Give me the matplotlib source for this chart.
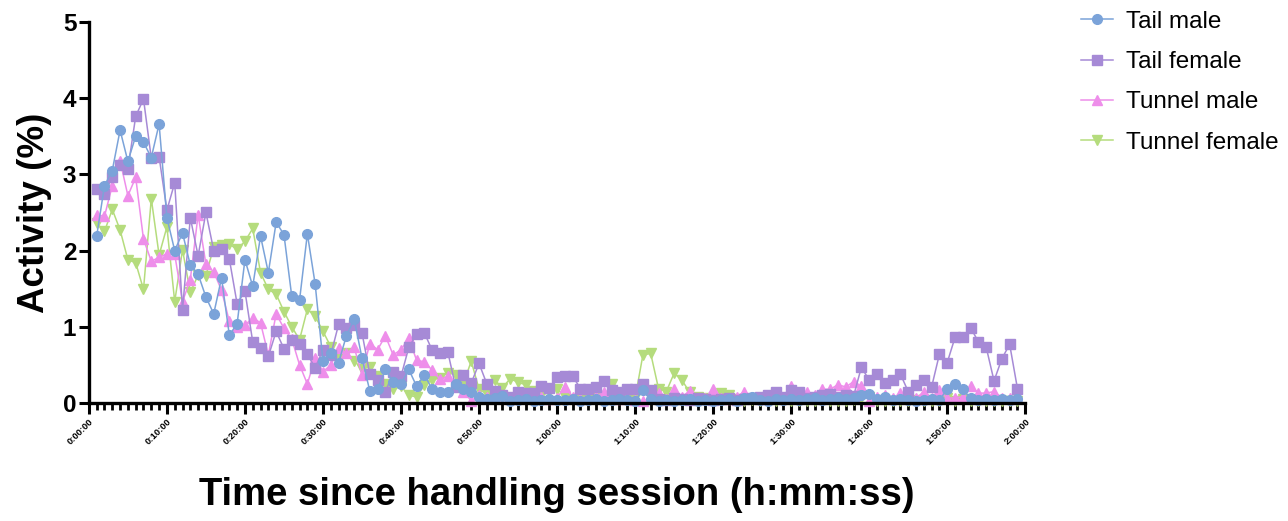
import numpy as np
import matplotlib
matplotlib.use("Agg")
import matplotlib.pyplot as plt
from matplotlib.ticker import MultipleLocator, FuncFormatter

plt.rcParams["font.family"] = ["Liberation Sans", "DejaVu Sans"]
plt.rcParams["font.weight"] = "bold"

minutes = np.arange(1, 120)

tail_male = [
    2.19, 2.85, 3.05, 3.58, 3.17, 3.50, 3.42, 3.22, 3.66, 2.43,
    2.00, 2.23, 1.81, 1.69, 1.39, 1.17, 1.64, 0.89, 1.04, 1.88,
    1.53, 2.19, 1.71, 2.37, 2.21, 1.40, 1.35, 2.22, 1.56, 0.55,
    0.65, 0.53, 0.88, 1.10, 0.59, 0.16, 0.18, 0.44, 0.27, 0.25,
    0.44, 0.22, 0.37, 0.18, 0.14, 0.15, 0.25, 0.18, 0.15, 0.08,
    0.05, 0.06, 0.09, 0.03, 0.04, 0.05, 0.03, 0.04, 0.05, 0.04,
    0.04, 0.05, 0.03, 0.04, 0.05, 0.03, 0.04, 0.05, 0.04, 0.03,
    0.17, 0.05, 0.03, 0.04, 0.03, 0.04, 0.05, 0.03, 0.04, 0.03,
    0.04, 0.05, 0.03, 0.06, 0.08, 0.04, 0.03, 0.05, 0.04, 0.05,
    0.04, 0.05, 0.06, 0.04, 0.05, 0.06, 0.05, 0.07, 0.10, 0.12,
    0.05, 0.08, 0.04, 0.05, 0.04, 0.03, 0.04, 0.05, 0.04, 0.18,
    0.25, 0.18, 0.06, 0.04, 0.05, 0.04, 0.05, 0.04, 0.05,
]
tail_female = [
    2.81, 2.74, 2.97, 3.12, 3.07, 3.76, 3.99, 3.21, 3.23, 2.53,
    2.89, 1.22, 2.43, 1.93, 2.50, 2.00, 2.02, 1.89, 1.30, 1.47,
    0.80, 0.72, 0.61, 0.94, 0.71, 0.82, 0.77, 0.64, 0.46, 0.70,
    0.63, 1.03, 0.99, 1.02, 0.92, 0.38, 0.30, 0.14, 0.41, 0.35,
    0.73, 0.90, 0.92, 0.69, 0.65, 0.67, 0.21, 0.37, 0.26, 0.52,
    0.25, 0.16, 0.11, 0.08, 0.14, 0.13, 0.13, 0.22, 0.20, 0.34,
    0.35, 0.35, 0.19, 0.19, 0.21, 0.29, 0.17, 0.15, 0.18, 0.19,
    0.25, 0.17, 0.05, 0.04, 0.06, 0.05, 0.04, 0.06, 0.05, 0.04,
    0.05, 0.06, 0.04, 0.05, 0.06, 0.08, 0.10, 0.15, 0.08, 0.17,
    0.14, 0.07, 0.08, 0.10, 0.12, 0.08, 0.10, 0.09, 0.47, 0.30,
    0.38, 0.26, 0.30, 0.38, 0.15, 0.24, 0.30, 0.21, 0.64, 0.53,
    0.86, 0.86, 0.99, 0.80, 0.73, 0.29, 0.58, 0.77, 0.19,
]
tunnel_male = [
    2.47, 2.45, 2.85, 3.18, 2.72, 2.96, 2.15, 1.86, 1.91, 1.96,
    1.95, 1.33, 1.62, 2.47, 1.82, 1.72, 1.48, 1.07, 1.00, 1.02,
    1.12, 1.05, 0.63, 1.17, 0.98, 0.84, 0.50, 0.25, 0.59, 0.41,
    0.50, 0.72, 0.65, 0.73, 0.37, 0.78, 0.70, 0.88, 0.63, 0.70,
    0.85, 0.56, 0.54, 0.43, 0.31, 0.35, 0.25, 0.15, 0.03, 0.10,
    0.08, 0.06, 0.10, 0.05, 0.07, 0.12, 0.06, 0.08, 0.05, 0.07,
    0.21, 0.08, 0.05, 0.06, 0.09, 0.14, 0.06, 0.05, 0.07, 0.04,
    0.02, 0.06, 0.13, 0.05, 0.19, 0.08, 0.16, 0.05, 0.06, 0.19,
    0.07, 0.05, 0.08, 0.15, 0.06, 0.05, 0.07, 0.06, 0.08, 0.22,
    0.08, 0.15, 0.10, 0.18, 0.18, 0.24, 0.21, 0.28, 0.22, 0.02,
    0.08, 0.10, 0.06, 0.13, 0.08, 0.06, 0.15, 0.07, 0.17, 0.06,
    0.07, 0.08, 0.22, 0.13, 0.13, 0.15, 0.07, 0.06, 0.07,
]
tunnel_female = [
    2.36, 2.25, 2.54, 2.27, 1.88, 1.84, 1.49, 2.68, 1.94, 2.31,
    1.33, 2.01, 1.45, 1.68, 1.67, 2.05, 2.07, 2.08, 2.02, 2.12,
    2.29, 1.71, 1.49, 1.43, 1.20, 1.00, 0.83, 1.23, 1.14, 0.94,
    0.74, 0.62, 0.65, 0.55, 0.45, 0.47, 0.35, 0.25, 0.18, 0.22,
    0.10, 0.08, 0.24, 0.30, 0.33, 0.40, 0.37, 0.25, 0.55, 0.18,
    0.12, 0.30, 0.20, 0.32, 0.27, 0.24, 0.16, 0.10, 0.14, 0.19,
    0.08, 0.05, 0.07, 0.06, 0.10, 0.08, 0.25, 0.08, 0.05, 0.06,
    0.63, 0.65, 0.19, 0.15, 0.39, 0.30, 0.14, 0.08, 0.06, 0.05,
    0.13, 0.10, 0.05, 0.03, 0.04, 0.03, 0.02, 0.03, 0.04, 0.02,
    0.03, 0.02, 0.03, 0.04, 0.03, 0.02, 0.03, 0.04, 0.06, 0.08,
    0.03, 0.02, 0.03, 0.02, 0.03, 0.04, 0.02, 0.03, 0.02, 0.06,
    0.03, 0.05, 0.02, 0.03, 0.02, 0.03, 0.02, 0.03, 0.02,
]

series = [
    ("Tail male", tail_male, "o", "#7ba3d9"),
    ("Tail female", tail_female, "s", "#a68ad6"),
    ("Tunnel male", tunnel_male, "^", "#ee8eea"),
    ("Tunnel female", tunnel_female, "v", "#b5dc7d"),
]


def hms(m, pos):
    m = int(round(m))
    return f"{m // 60}:{m % 60:02d}:00"


fig = plt.figure(figsize=(12.88, 5.21), dpi=100)
ax = fig.add_axes([0.069, 0.2265, 0.727, 0.7315])

handles = []
for label, vals, mk, col in reversed(series):
    h, = ax.plot(minutes, vals, "-", marker=mk, color=col, lw=1.1, ms=7,
                 mec=col, label=label, clip_on=False)
    handles.append(h)
handles = handles[::-1]

ax.set_xlim(0, 120)
ax.set_ylim(0, 5)
ax.xaxis.set_major_locator(MultipleLocator(10))
ax.xaxis.set_minor_locator(MultipleLocator(1))
ax.xaxis.set_major_formatter(FuncFormatter(hms))
ax.yaxis.set_major_locator(MultipleLocator(1))

for s in ["top", "right"]:
    ax.spines[s].set_visible(False)
for s in ["left", "bottom"]:
    ax.spines[s].set_linewidth(2.4)

ax.tick_params(axis="y", which="major", length=7, width=2.2, labelsize=17.5, pad=2)
ax.tick_params(axis="x", which="major", length=8, width=2.2, labelsize=6.8, pad=2)
ax.tick_params(axis="x", which="minor", length=5, width=2.0)
for t in ax.get_xticklabels():
    t.set_rotation(45)
    t.set_ha("right")
    t.set_rotation_mode("anchor")
    t.set_fontweight("bold")
for t in ax.get_yticklabels():
    t.set_fontweight("bold")

ax.set_ylabel("Activity (%)", fontsize=26.5, fontweight="bold", labelpad=8)
ax.set_xlabel("Time since handling session (h:mm:ss)", fontsize=27.5,
              fontweight="bold", labelpad=22)

fig.legend(handles=handles, loc="upper left", bbox_to_anchor=(0.831, 1.0),
           frameon=False, handlelength=1.3, labelspacing=0.75,
           handletextpad=0.55, borderpad=0.45, borderaxespad=0,
           prop={"weight": "normal", "size": 17.5})

fig.savefig("out.png", dpi=100)
